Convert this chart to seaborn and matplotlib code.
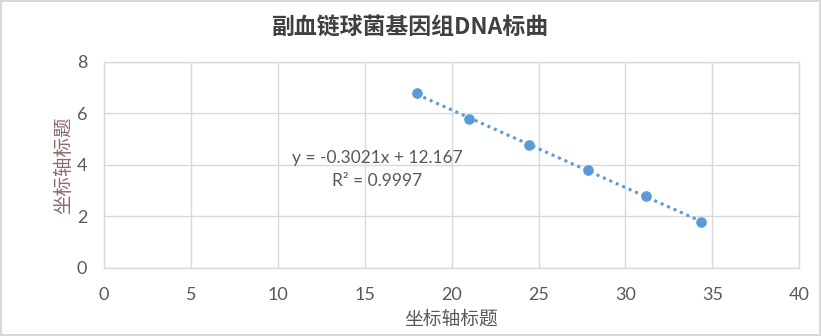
import numpy as np
import pandas as pd
import matplotlib
matplotlib.use("Agg")
import matplotlib.pyplot as plt
import seaborn as sns

# ==============================================================================
# DADOS
# ==============================================================================
ct_values = [18.0, 21.0, 24.45, 27.87, 31.17, 34.37]
log_copies = [6.78, 5.78, 4.78, 3.78, 2.78, 1.78]
x_ticks = [0, 5, 10, 15, 20, 25, 30, 35, 40]
y_ticks = [0, 2, 4, 6, 8]
titulo = "副血链球菌基因组DNA标曲"
eixo_titulo = "坐标轴标题"
equacao = "y = -0.3021x + 12.167"
r2_texto = "R² = 0.9997"

AZUL = "#5B9BD5"
CINZA_TXT = "#595959"
CINZA_GRADE = "#D9D9D9"

sns.set_theme(style="whitegrid")
plt.rcParams["font.family"] = ["Noto Sans CJK SC", "DejaVu Sans"]

df = pd.DataFrame({"ct": ct_values, "log": log_copies})

fig = plt.figure(figsize=(8.21, 3.36), dpi=100)
fig.patch.set_facecolor("white")
fig.patch.set_edgecolor(CINZA_GRADE)
fig.patch.set_linewidth(1.5)

ax = fig.add_axes([104 / 821, 1 - 267.6 / 336, (799.3 - 104) / 821, (267.6 - 62) / 336])

sns.regplot(
    data=df, x="ct", y="log", ci=None, ax=ax,
    scatter_kws={"s": 44, "color": AZUL, "edgecolors": AZUL, "zorder": 3, "alpha": 1},
    line_kws={"color": AZUL, "linestyle": (0, (1, 1.3)), "linewidth": 2.2, "zorder": 2},
)

ax.set_xlim(0, 40)
ax.set_ylim(0, 8)
ax.set_xticks(x_ticks)
ax.set_yticks(y_ticks)
ax.set_facecolor("white")
ax.grid(True, color=CINZA_GRADE, linewidth=1)
for lado, spine in ax.spines.items():
    spine.set_visible(True)
    spine.set_color(CINZA_GRADE)
    spine.set_linewidth(1)

ax.tick_params(axis="both", length=0, labelcolor=CINZA_TXT)
ax.tick_params(axis="x", pad=14)
ax.tick_params(axis="y", pad=12)
for lbl in ax.get_xticklabels() + ax.get_yticklabels():
    lbl.set_fontfamily(["Lato", "DejaVu Sans"])
    lbl.set_fontsize(13)

ax.set_xlabel(eixo_titulo, fontsize=13.5, color=CINZA_TXT, labelpad=4)
ax.set_ylabel(eixo_titulo, fontsize=14, color="#8E6A6A", labelpad=2)

ax.text(15.7, 4.27, equacao, ha="center", va="center", fontsize=12.5,
        color=CINZA_TXT, family=["Lato", "DejaVu Sans"])
ax.text(15.7, 3.38, r2_texto, ha="center", va="center", fontsize=12.5,
        color=CINZA_TXT, family=["Lato", "DejaVu Sans"])

fig.text(0.5, 1 - 28 / 336, titulo, ha="center", va="center",
         fontsize=16.5, fontweight="bold", color="#404040")

fig.savefig("out.png", dpi=100, facecolor=fig.get_facecolor(), edgecolor=fig.get_edgecolor())
